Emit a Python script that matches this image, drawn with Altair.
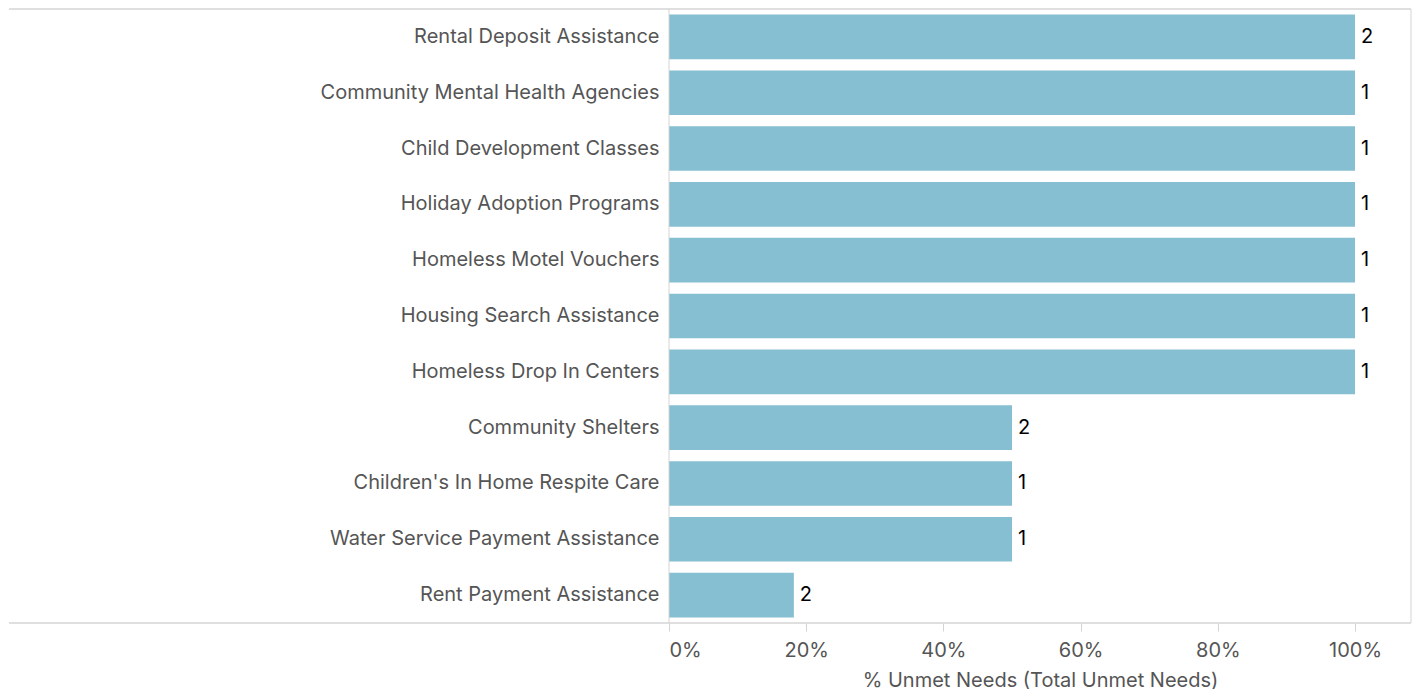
import altair as alt
import pandas as pd

categories = [
    "Rental Deposit Assistance",
    "Community Mental Health Agencies",
    "Child Development Classes",
    "Holiday Adoption Programs",
    "Homeless Motel Vouchers",
    "Housing Search Assistance",
    "Homeless Drop In Centers",
    "Community Shelters",
    "Children's In Home Respite Care",
    "Water Service Payment Assistance",
    "Rent Payment Assistance",
]
pct_unmet = [1.0, 1.0, 1.0, 1.0, 1.0, 1.0, 1.0, 0.5, 0.5, 0.5, 0.182]
total_unmet = [2, 1, 1, 1, 1, 1, 1, 2, 1, 1, 2]
x_ticks = [0, 0.2, 0.4, 0.6, 0.8, 1.0]

df = pd.DataFrame({"need": categories, "pct": pct_unmet, "count": total_unmet})

W, H = 742, 614
LEFT = 660
FONT = "Inter"
FS = 20
LINE = "#d4d4d4"

y_enc = alt.Y(
    "need:N",
    sort=categories,
    scale=alt.Scale(paddingInner=0.2, paddingOuter=0.1),
    axis=alt.Axis(title=None, ticks=False, domain=False, labelPadding=10,
                  labelFontSize=FS, labelColor="#555555", labelLimit=640,
                  labelFont=FONT),
)
x_enc = alt.X(
    "pct:Q",
    scale=alt.Scale(domain=[0, 1.0816], nice=False, zero=True),
    axis=alt.Axis(title="% Unmet Needs (Total Unmet Needs)", format=".0%",
                  values=x_ticks, tickSize=8, tickColor=LINE, domain=False,
                  grid=False, labelFlush=True, labelPadding=9,
                  labelFontSize=FS, labelColor="#555555", labelFont=FONT,
                  titleFont=FONT, titleFontSize=FS, titleFontWeight="normal",
                  titleColor="#555555", titlePadding=10),
)

bars = alt.Chart(df).mark_bar(color="#85bfd1").encode(x=x_enc, y=y_enc)
labels = alt.Chart(df).mark_text(
    align="left", baseline="middle", dx=6, fontSize=FS, font=FONT, color="#000000"
).encode(x="pct:Q", y=alt.Y("need:N", sort=categories), text="count:Q")

one = pd.DataFrame({"a": [0]})
top_line = alt.Chart(one).mark_rule(color=LINE, strokeWidth=1.5).encode(
    x=alt.value(-LEFT), x2=alt.value(W), y=alt.value(0))
bottom_line = alt.Chart(one).mark_rule(color=LINE, strokeWidth=1.5).encode(
    x=alt.value(-LEFT), x2=alt.value(W), y=alt.value(H))
right_line = alt.Chart(one).mark_rule(color=LINE, strokeWidth=1).encode(
    x=alt.value(W), y=alt.value(0), y2=alt.value(H))
left_line = alt.Chart(one).mark_rule(color=LINE, strokeWidth=1).encode(
    x=alt.value(0), y=alt.value(0), y2=alt.value(H))

chart = alt.layer(bars, labels, top_line, bottom_line, right_line, left_line).properties(
    width=W, height=H, padding=0
).configure_view(stroke=None)

chart.save("out.html", embed_options={"renderer": "svg", "actions": False})
